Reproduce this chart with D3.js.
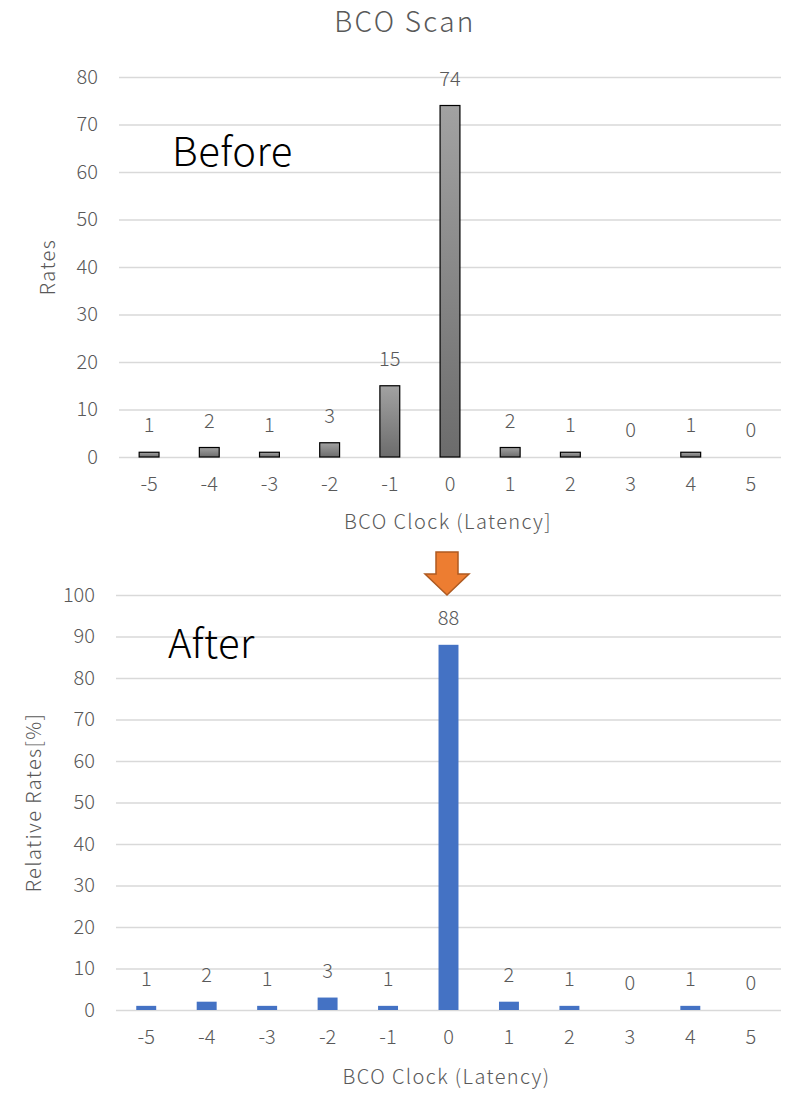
<!DOCTYPE html>
<html>
<head>
<meta charset="utf-8"/>
<script src="https://d3js.org/d3.v7.min.js"></script>
<style>
    body { margin: 0; background: #ffffff; }
    svg { display: block; font-family: "Noto Sans CJK JP", "Noto Sans", sans-serif; font-weight: 300; }
    .grid line { stroke: #d9d9d9; stroke-width: 1.5; }
    .grid path { display: none; }
    .tick text { fill: #595959; }
</style>
</head>
<body>
<svg id="chart" width="787" height="1093"></svg>
<script>
// clock offsets and rates
var clocks = ["-5", "-4", "-3", "-2", "-1", "0", "1", "2", "3", "4", "5"];
var beforeRates = [1, 2, 1, 3, 15, 74, 2, 1, 0, 1, 0];
var afterRates = [1, 2, 1, 3, 1, 88, 2, 1, 0, 1, 0];
var beforeTicks = [0, 10, 20, 30, 40, 50, 60, 70, 80];
var afterTicks = [0, 10, 20, 30, 40, 50, 60, 70, 80, 90, 100];

var fontFam = '"Noto Sans CJK JP", "Noto Sans", sans-serif';
var svg = d3.select("#chart");

var defs = svg.append("defs");
var grad = defs.append("linearGradient").attr("id", "grayGrad")
    .attr("x1", 0).attr("y1", 0).attr("x2", 0).attr("y2", 1);
grad.append("stop").attr("offset", "0%").attr("stop-color", "#a2a2a2");
grad.append("stop").attr("offset", "100%").attr("stop-color", "#6c6c6c");

// title
svg.append("text").attr("x", 405).attr("y", 32).attr("text-anchor", "middle")
    .attr("font-size", 28).attr("letter-spacing", 2.3).attr("fill", "#595959").text("BCO Scan");

function styleTicks(s) {
    s.select(".domain").remove();
    s.attr("font-family", fontFam).attr("font-size", 20);
    s.selectAll("text").attr("font-weight", 300);
}

function drawPanel(opt) {
    var x = d3.scaleBand().domain(clocks).range([opt.x0, opt.x1])
        .paddingInner(0.67).paddingOuter(0.335);
    var y = d3.scaleLinear().domain([0, opt.max]).range([opt.y0, opt.y1]);

    var g = svg.append("g");

    // gridlines
    g.append("g").attr("class", "grid")
        .attr("transform", "translate(" + opt.x0 + ",0)")
        .call(d3.axisRight(y).tickValues(opt.ticks).tickSize(opt.x1 - opt.x0).tickFormat(""))
        .call(function (s) { s.selectAll("text").remove(); });

    // y tick labels
    g.append("g")
        .attr("transform", "translate(" + (opt.x0 - 18) + ",0)")
        .call(d3.axisLeft(y).tickValues(opt.ticks).tickSize(0))
        .call(styleTicks);

    // x tick labels
    g.append("g")
        .attr("transform", "translate(0," + (opt.y0 + 17) + ")")
        .call(d3.axisBottom(x).tickSize(0))
        .call(styleTicks);

    // bars
    g.selectAll("rect.bar").data(opt.data).enter()
        .append("rect")
        .attr("class", "bar")
        .attr("x", function (d, i) { return x(clocks[i]); })
        .attr("width", x.bandwidth())
        .attr("y", function (d) { return y(d); })
        .attr("height", function (d) { return opt.y0 - y(d); })
        .attr("fill", opt.fill)
        .attr("stroke", opt.stroke)
        .attr("stroke-width", opt.stroke == "none" ? 0 : 1.2)
        .attr("display", function (d) { return d > 0 ? null : "none"; });

    // value labels
    g.selectAll("text.val").data(opt.data).enter()
        .append("text")
        .attr("class", "val")
        .attr("x", function (d, i) { return x(clocks[i]) + x.bandwidth() / 2; })
        .attr("y", function (d) { return y(d) - 20; })
        .attr("text-anchor", "middle")
        .attr("font-size", 20).attr("fill", "#595959")
        .text(function (d) { return d; });

    // axis titles
    g.append("text")
        .attr("x", (opt.x0 + opt.x1) / 2 - 2).attr("y", opt.y0 + opt.xTitleDy)
        .attr("text-anchor", "middle").attr("font-size", 20).attr("letter-spacing", 1.4)
        .attr("fill", "#595959")
        .text(opt.xTitle);
    g.append("text")
        .attr("transform", "translate(" + opt.yTitleX + "," + ((opt.y0 + opt.y1) / 2) + ") rotate(-90)")
        .attr("text-anchor", "middle").attr("font-size", 20).attr("letter-spacing", 1.4)
        .attr("fill", "#595959")
        .text(opt.yTitle);

    // panel tag
    g.append("text").attr("x", opt.tagX).attr("y", opt.tagY)
        .attr("font-size", 40).attr("letter-spacing", 0.5).attr("fill", "#000000").text(opt.tag);
}

drawPanel({
    data: beforeRates, ticks: beforeTicks, max: 80,
    x0: 119, x1: 781, y0: 457, y1: 77,
    fill: "url(#grayGrad)", stroke: "#000000",
    xTitle: "BCO Clock (Latency]", xTitleDy: 72, yTitle: "Rates", yTitleX: 55,
    tag: "Before", tagX: 172, tagY: 166
});

drawPanel({
    data: afterRates, ticks: afterTicks, max: 100,
    x0: 116, x1: 781, y0: 1010, y1: 595,
    fill: "#4472c4", stroke: "none",
    xTitle: "BCO Clock (Latency)", xTitleDy: 74, yTitle: "Relative Rates[%]", yTitleX: 41,
    tag: "After", tagX: 168, tagY: 658
});

// down arrow between the panels
var arrow = [[436, 552], [458, 552], [458, 574], [469, 574], [447, 595], [425, 574], [436, 574]];
svg.append("path")
    .attr("d", d3.line()(arrow) + "Z")
    .attr("fill", "#ed7d31").attr("stroke", "#ae5a21").attr("stroke-width", 1.5);
</script>
</body>
</html>
